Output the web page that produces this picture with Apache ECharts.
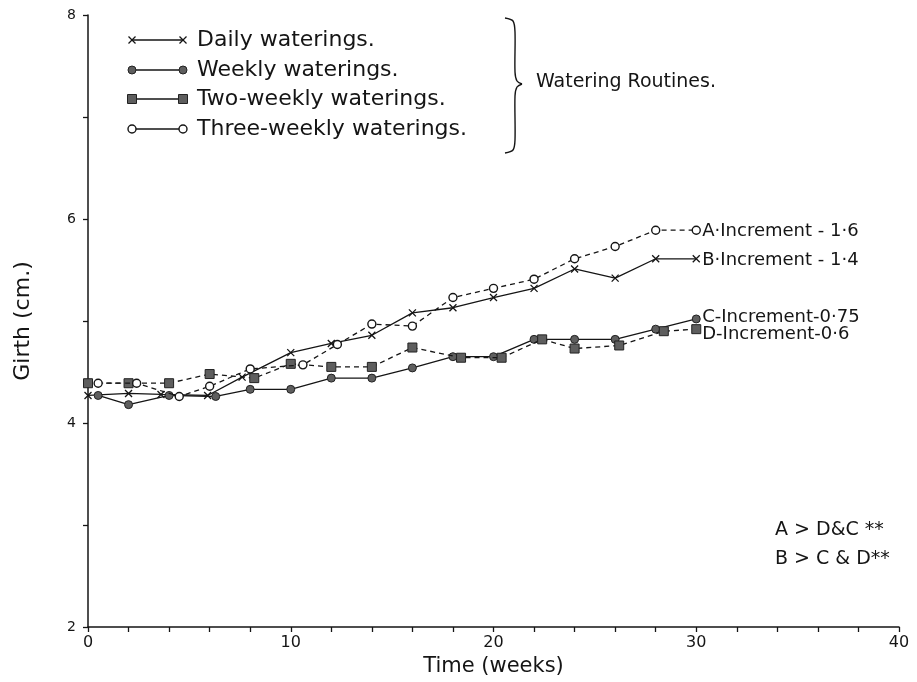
<!DOCTYPE html>
<html>
<head>
<meta charset="utf-8">
<title>Girth vs time, watering routines</title>
<script src="https://cdn.jsdelivr.net/npm/echarts@6/dist/echarts.min.js"></script>
<style>
  html, body { margin: 0; padding: 0; background: #fff; }
  #chart { width: 917px; height: 682px; }
</style>
</head>
<body>
<div id="chart"></div>
<script>
  // [week, girth cm]; small week offsets where the points were drawn side by side
  const dailyB = [[0, 4.27], [2, 4.29], [3.6, 4.28], [5.9, 4.27], [7.6, 4.45], [10, 4.69], [12, 4.78], [14, 4.86],
    [16, 5.08], [18, 5.13], [20, 5.23], [22, 5.32], [24, 5.51], [26, 5.42], [28, 5.61], [30, 5.61]]
  const weeklyC = [[0.5, 4.27], [2, 4.18], [4, 4.27], [6.3, 4.26], [8, 4.33], [10, 4.33], [12, 4.44], [14, 4.44],
    [16, 4.54], [18, 4.65], [20, 4.65], [22, 4.82], [24, 4.82], [26, 4.82], [28, 4.92], [30, 5.02]]
  const twoWeeklyD = [[0, 4.39], [2, 4.39], [4, 4.39], [6, 4.48], [8.2, 4.44], [10, 4.58], [12, 4.55], [14, 4.55],
    [16, 4.74], [18.4, 4.64], [20.4, 4.64], [22.4, 4.82], [24, 4.73], [26.2, 4.76], [28.4, 4.9], [30, 4.92]]
  const threeWeeklyA = [[0.5, 4.39], [2.4, 4.39], [4.5, 4.26], [6, 4.36], [8, 4.53], [10.6, 4.57], [12.3, 4.77], [14, 4.97],
    [16, 4.95], [18, 5.23], [20, 5.32], [22, 5.41], [24, 5.61], [26, 5.73], [28, 5.89], [30, 5.89]]

  const legendNames = ['Daily waterings.', 'Weekly waterings.', 'Two-weekly waterings.', 'Three-weekly waterings.']
  const endNames = ['B·Increment - 1·4', 'C-Increment-0·75', 'D-Increment-0·6', 'A·Increment - 1·6']
  const groupName = 'Watering Routines.'
  const notes = ['A > D&C **', 'B > C & D**']

  const ink = '#151515'
  const fill = '#5e5e5e'
  const font = 'DejaVu Sans'
  const crossPath = 'path://M0,0L10,10M10,0L0,10'

  const symbols = [
    { symbol: crossPath, size: 7, item: { color: ink, borderColor: ink, borderWidth: 1.3 } },
    { symbol: 'circle', size: 8, item: { color: fill, borderColor: '#222', borderWidth: 1 } },
    { symbol: 'rect', size: 9, item: { color: fill, borderColor: '#222', borderWidth: 1 } },
    { symbol: 'circle', size: 8, item: { color: '#fff', borderColor: ink, borderWidth: 1.4 } }
  ]
  const seriesData = [dailyB, weeklyC, twoWeeklyD, threeWeeklyA]
  const dashed = [false, false, true, true]
  const endOffsets = [[0, 2], [0, -2], [0, 5], [0, 1]]

  // hand-drawn style legend: marker --- marker  text
  const legendGraphic = []
  const legendRows = [40, 70, 99, 129]
  legendRows.forEach((y, i) => {
    legendGraphic.push({ type: 'line', shape: { x1: 132, y1: y, x2: 183, y2: y }, style: { stroke: ink, lineWidth: 1.3 }, z: 10 })
    ;[132, 183].forEach(x => {
      if (i === 0) {
        legendGraphic.push({ type: 'polyline', shape: { points: [[x - 3.5, y - 3.5], [x + 3.5, y + 3.5]] }, style: { stroke: ink, lineWidth: 1.3 }, z: 11 })
        legendGraphic.push({ type: 'polyline', shape: { points: [[x + 3.5, y - 3.5], [x - 3.5, y + 3.5]] }, style: { stroke: ink, lineWidth: 1.3 }, z: 11 })
      } else if (i === 2) {
        legendGraphic.push({ type: 'rect', shape: { x: x - 4.5, y: y - 4.5, width: 9, height: 9 }, style: { fill: fill, stroke: '#222', lineWidth: 1 }, z: 11 })
      } else {
        const s = symbols[i].item
        legendGraphic.push({ type: 'circle', shape: { cx: x, cy: y, r: 4 }, style: { fill: s.color, stroke: s.borderColor, lineWidth: s.borderWidth }, z: 11 })
      }
    })
    legendGraphic.push({
      type: 'text', x: 197, y: y, z: 11,
      style: { text: legendNames[i], fill: ink, font: '22px "' + font + '"', verticalAlign: 'middle' }
    })
  })

  // curly brace grouping the legend
  const braceTop = [[505, 18], [513, 21], [515, 32], [515, 72], [517, 81], [522, 84]]
  const braceBottom = [[522, 84], [517, 87], [515, 96], [515, 140], [513, 150], [505, 153]]
  ;[braceTop, braceBottom].forEach(pts => {
    legendGraphic.push({ type: 'polyline', shape: { points: pts, smooth: 0.3 }, style: { stroke: ink, lineWidth: 1.4, fill: null }, z: 10 })
  })

  const chart = echarts.init(document.getElementById('chart'), null, { renderer: 'canvas' })
  chart.setOption({
    animation: false,
    backgroundColor: '#fff',
    grid: { left: 88, right: 18, top: 15, bottom: 55, outerBoundsMode: 'none' },
    xAxis: {
      type: 'value',
      min: 0,
      max: 40,
      interval: 10,
      name: 'Time (weeks)',
      nameLocation: 'middle',
      nameGap: 27,
      nameTextStyle: { color: ink, fontSize: 21, fontFamily: font },
      axisLine: { lineStyle: { color: ink, width: 1.5 } },
      axisTick: { length: 5, lineStyle: { color: ink, width: 1.3 } },
      minorTick: { show: true, splitNumber: 5, length: 5, lineStyle: { color: ink, width: 1.3 } },
      axisLabel: { color: ink, fontSize: 16, fontFamily: font, margin: 8 },
      splitLine: { show: false }
    },
    yAxis: {
      type: 'value',
      min: 2,
      max: 8,
      interval: 2,
      name: 'Girth (cm.)',
      nameLocation: 'middle',
      nameGap: 54,
      nameTextStyle: { color: ink, fontSize: 22, fontFamily: font },
      axisLine: { show: true, lineStyle: { color: ink, width: 1.5 } },
      axisTick: { show: true, length: 5, lineStyle: { color: ink, width: 1.3 } },
      minorTick: { show: true, splitNumber: 2, length: 5, lineStyle: { color: ink, width: 1.3 } },
      axisLabel: { color: ink, fontSize: 14, fontFamily: font, margin: 12 },
      splitLine: { show: false }
    },
    series: seriesData.map((data, i) => ({
      name: legendNames[i],
      type: 'line',
      data: data,
      symbol: symbols[i].symbol,
      symbolSize: symbols[i].size,
      itemStyle: symbols[i].item,
      lineStyle: { color: ink, width: 1.3, type: dashed[i] ? [5, 4] : 'solid' },
      endLabel: {
        show: true,
        formatter: endNames[i],
        color: ink,
        fontSize: 18,
        fontFamily: font,
        distance: 6,
        offset: endOffsets[i]
      },
      z: 3 + i
    })),
    graphic: legendGraphic.concat([
      {
        type: 'text', x: 536, y: 82, z: 10,
        style: { text: groupName, fill: ink, font: '19px "' + font + '"', verticalAlign: 'middle' }
      },
      {
        type: 'text', x: 775, y: 530, z: 10,
        style: { text: notes[0], fill: ink, font: '19px "' + font + '"', verticalAlign: 'middle' }
      },
      {
        type: 'text', x: 775, y: 559, z: 10,
        style: { text: notes[1], fill: ink, font: '19px "' + font + '"', verticalAlign: 'middle' }
      }
    ])
  })
</script>
</body>
</html>
